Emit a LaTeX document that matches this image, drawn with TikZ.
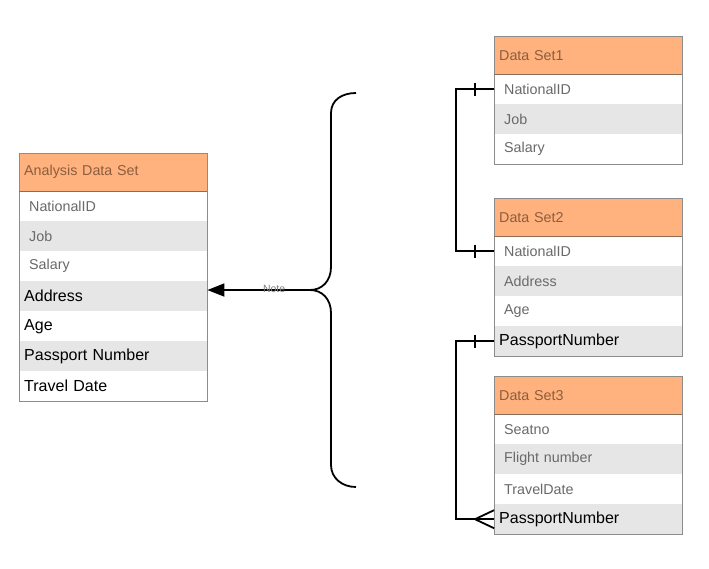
\documentclass[tikz,border=0pt]{standalone}
\usepackage{fontspec}
\setmainfont{Liberation Sans}
\usetikzlibrary{arrows.meta}
\definecolor{hdrfill}{RGB}{255,178,125}
\definecolor{hdrtext}{RGB}{140,94,62}
\definecolor{rowgray}{RGB}{230,230,230}
\definecolor{fldtext}{RGB}{105,105,105}
\definecolor{frame}{RGB}{140,140,140}

\begin{document}
\begin{tikzpicture}[x=1pt, y=-1pt,
        cell/.style={anchor=north west, minimum height=30pt, inner ysep=0pt, align=left},
        hdr/.style={cell, minimum height=38pt, fill=hdrfill, text=hdrtext, inner xsep=5pt, text width=178pt, font=\fontsize{14.3}{16}\selectfont},
        fld/.style={cell, fill=#1, text=fldtext, inner xsep=10pt, text width=168pt, font=\fontsize{14.3}{16}\selectfont},
        fld/.default=white,
        key/.style={cell, fill=#1, text=black, inner xsep=5pt, text width=178pt, font=\fontsize{16}{18}\selectfont},
        key/.default=white,
        frm/.style={draw=frame, line width=0.9pt},
        link/.style={line width=1.8pt, black}]
        \useasboundingbox (0,0) rectangle (709,568);
        \fill[white] (0,0) rectangle (709,568);

        % Analysis Data Set
        \node[hdr] (ah) at (19,153) {Analysis Data Set};
        \node[fld]          (a1) at (19,191) {NationalID};
        \node[fld=rowgray]  (a2) at (19,221) {Job};
        \node[fld]          (a3) at (19,251) {Salary};
        \node[key=rowgray]  (a4) at (19,281) {Address};
        \node[key]          (a5) at (19,311) {Age};
        \node[key=rowgray]  (a6) at (19,341) {Passport Number};
        \node[key]          (a7) at (19,371) {Travel Date};

        % Data Set1
        \node[hdr] (s1h) at (494,36) {Data Set1};
        \node[fld]          (s1a) at (494,74)  {NationalID};
        \node[fld=rowgray]  (s1b) at (494,104) {Job};
        \node[fld]          (s1c) at (494,134) {Salary};

        % Data Set2
        \node[hdr] (s2h) at (494,198) {Data Set2};
        \node[fld]          (s2a) at (494,236) {NationalID};
        \node[fld=rowgray]  (s2b) at (494,266) {Address};
        \node[fld]          (s2c) at (494,296) {Age};
        \node[key=rowgray]  (s2d) at (494,326) {PassportNumber};

        % Data Set3
        \node[hdr] (s3h) at (494,376) {Data Set3};
        \node[fld]          (s3a) at (494,414) {Seatno};
        \node[fld=rowgray]  (s3b) at (494,444) {Flight number};
        \node[fld]          (s3c) at (494,474) {TravelDate};
        \node[key=rowgray]  (s3d) at (494,504) {PassportNumber};

        % Рамки таблиц
        \foreach \h/\e in {ah/a7, s1h/s1c, s2h/s2d, s3h/s3d} {
            \draw[frm] (\h.north west) rectangle (\e.south east);
            \draw[draw=hdrtext!70!frame, line width=0.9pt] (\h.south west) -- (\h.south east);
        }

        % Скобка и стрелка
        \coordinate (tip) at (310,290);
        \draw[link] (356,93) .. controls (342,93) and (331,100) .. (331,113) -- (331,267)
            .. controls (331,281) and (322,290) .. (tip)
            .. controls (322,290) and (331,299) .. (331,313) -- (331,465)
            .. controls (331,478) and (342,487) .. (356,487);
        \draw[link, -{Triangle[length=17pt,width=13pt]}] (tip) -- (tip -| a4.east)
            node[pos=0.35, yshift=1.5pt, text=gray, font=\fontsize{10.5}{12}\selectfont] (note) {Note};

        % Связи
        \coordinate (spine) at (456,0);
        \draw[link] (s1a.west) -- (s1a.west -| spine) |- (s2a.west);
        \draw[link] (s2d.west) -- (s2d.west -| spine) |- (s3d.west);
        \foreach \n in {s1a, s2a, s2d}
            \draw[link] ([xshift=-19pt, yshift=6.5pt]\n.west) -- ([xshift=-19pt, yshift=-6.5pt]\n.west);
        \draw[link] ([xshift=-19pt]s3d.west) -- ([yshift=9pt]s3d.west);
        \draw[link] ([xshift=-19pt]s3d.west) -- ([yshift=-9pt]s3d.west);
    \end{tikzpicture}
\end{document}
